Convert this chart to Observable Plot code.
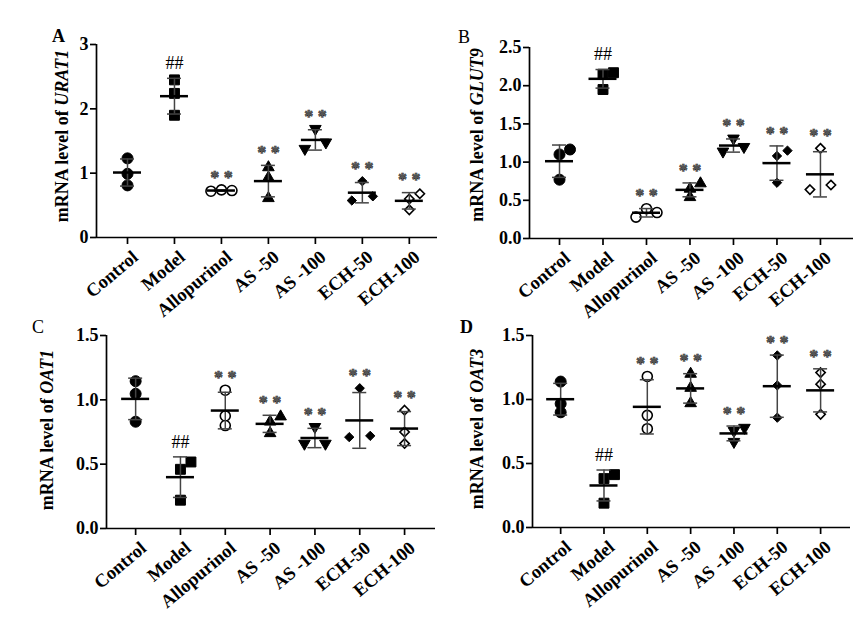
<!DOCTYPE html>
<html><head><meta charset="utf-8">
<script src="https://cdn.jsdelivr.net/npm/d3@7"></script>
<script src="https://cdn.jsdelivr.net/npm/@observablehq/plot@0.6"></script>
<style>
body{margin:0;background:#fff;}
#wrap{position:relative;width:861px;height:617px;overflow:hidden;font-family:"Liberation Serif","Times New Roman",serif;color:#000;}
.panel{position:absolute;}
.letter{position:absolute;font-size:18px;line-height:1;}
</style></head><body><div id="wrap"></div>
<script>
// ---- data ----
const groups = ["Control", "Model", "Allopurinol", "AS -50", "AS -100", "ECH-50", "ECH-100"];

const urat1Values = [[1.23, 0.99, 0.81], [2.45, 2.24, 1.90], [0.72, 0.73, 0.74], [1.09, 0.93, 0.61], [1.69, 1.38, 1.48], [0.875, 0.575, 0.64], [0.68, 0.60, 0.43]];
const glut9Values = [[1.10, 1.165, 0.77], [2.15, 2.17, 1.95], [0.28, 0.39, 0.34], [0.72, 0.65, 0.54], [1.31, 1.14, 1.20], [1.08, 1.15, 0.73], [1.18, 0.64, 0.70]];
const oat1Values = [[1.145, 1.047, 0.83], [0.517, 0.46, 0.22], [1.075, 0.875, 0.80], [0.87, 0.83, 0.74], [0.79, 0.66, 0.66], [1.09, 0.71, 0.72], [0.92, 0.75, 0.66]];
const oat3Values = [[1.14, 0.967, 0.90], [0.413, 0.382, 0.19], [1.18, 0.876, 0.772], [1.20, 1.09, 0.97], [0.78, 0.755, 0.67], [1.344, 1.11, 0.858], [1.21, 1.12, 0.884]];

const urat1Signif = ["", "##", "* *", "* *", "* *", "* *", "* *"];
const glut9Signif = ["", "##", "* *", "* *", "* *", "* *", "* *"];
const oat1Signif = ["", "##", "* *", "* *", "* *", "* *", "* *"];
const oat3Signif = ["", "##", "* *", "* *", "* *", "* *", "* *"];

const urat1Ticks = [0, 1, 2, 3];
const glut9Ticks = [0, 0.5, 1.0, 1.5, 2.0, 2.5];
const oat1Ticks = [0, 0.5, 1.0, 1.5];
const oat3Ticks = [0, 0.5, 1.0, 1.5];

// ---- styles ----
const invTriangle = {
  draw(context, size) {
    const s3 = Math.sqrt(3);
    const y = -Math.sqrt(size / (s3 * 3));
    context.moveTo(0, -y * 2);
    context.lineTo(-s3 * y, y);
    context.lineTo(s3 * y, y);
    context.closePath();
  }
};
const groupStyle = [
  {symbol: "circle", r: 5.5, fill: "black", sw: 1},
  {symbol: "square", r: 5.6, fill: "black", sw: 1},
  {symbol: "circle", r: 5.0, fill: "white", sw: 1.6},
  {symbol: "triangle", r: 4.3, fill: "black", sw: 1},
  {symbol: invTriangle, r: 4.3, fill: "black", sw: 1},
  {symbol: "diamond2", r: 4.2, fill: "black", sw: 1},
  {symbol: "diamond2", r: 4.2, fill: "white", sw: 1.6}
];

const T_PX = 7.5;     // vertical overlap threshold (px)
const SLOT_PX = 10.5; // horizontal spread step (px)

function slotOffsets(vals, pxY) {
  const idx = vals.map((v, i) => i).sort((a, b) => vals[a] - vals[b]);
  const [a, b, c] = idx;
  const g1 = (vals[b] - vals[a]) * pxY, g2 = (vals[c] - vals[b]) * pxY;
  const off = [0, 0, 0];
  if (g1 < T_PX) { off[a] = -1; off[b] = 1; off[c] = 0; }
  else if (g2 < T_PX) { off[c] = 1; }
  return off;
}

function makePanel(cfg, values, signif, yTicks, fmt, gene) {
  const innerW = cfg.width - cfg.ml - cfg.mr;
  const innerH = cfg.height - cfg.mt - cfg.mb;
  const pxX = innerW / (cfg.xd[1] - cfg.xd[0]);
  const pxY = innerH / cfg.ymax;
  const slot = SLOT_PX / pxX;
  const meanW = 14 / pxX, capW = 7 / pxX;
  const stats = values.map((vals, i) => {
    const mean = d3.mean(vals), sd = d3.deviation(vals);
    return {i, mean, lo: mean - sd, hi: mean + sd, top: Math.max(mean + sd, d3.max(vals)), mark: signif[i]};
  });
  const dotMarks = values.map((vals, i) => {
    const off = slotOffsets(vals, pxY);
    const pts = vals.map((v, k) => ({x: i + off[k] * slot, v}));
    const st = groupStyle[i];
    return Plot.dot(pts, {x: "x", y: "v", symbol: st.symbol, r: st.r, fill: st.fill, stroke: "black", strokeWidth: st.sw});
  });
  const labels = groups.map((g, i) => ({i, g}));
  const svg = Plot.plot({
    width: cfg.width, height: cfg.height,
    marginLeft: cfg.ml, marginRight: cfg.mr, marginTop: cfg.mt, marginBottom: cfg.mb,
    style: {fontFamily: '"Liberation Serif","Times New Roman",serif', color: "black", background: "transparent", overflow: "visible"},
    x: {domain: cfg.xd, axis: null},
    y: {domain: [0, cfg.ymax], axis: null},
    marks: [
      ...dotMarks,
      Plot.ruleX(stats, {x: "i", y1: "lo", y2: "hi", stroke: "#444", strokeWidth: 1.5}),
      Plot.ruleY(stats, {y: "hi", x1: d => d.i - capW, x2: d => d.i + capW, stroke: "#444", strokeWidth: 1.5}),
      Plot.ruleY(stats, {y: "lo", x1: d => d.i - capW, x2: d => d.i + capW, stroke: "#444", strokeWidth: 1.5}),
      Plot.ruleY(stats, {y: "mean", x1: d => d.i - meanW, x2: d => d.i + meanW, stroke: "black", strokeWidth: 2.5}),
      Plot.text(stats.filter(d => d.mark === "##"), {x: "i", y: "top", text: "mark", dy: -15, fontSize: 18, fill: "black"}),
      Plot.text(stats.filter(d => d.mark !== "##" && d.mark !== ""), {x: "i", y: "top", text: "mark", dy: -12, fontSize: 18, fontWeight: "bold", fill: "#555", stroke: "#222", strokeWidth: 0.6}),
      Plot.ruleY([0], {stroke: "black", strokeWidth: 1.7}),
      Plot.ruleX([cfg.xd[0]], {y1: 0, y2: cfg.ymax, stroke: "black", strokeWidth: 1.7}),
      Plot.axisY({ticks: yTicks, tickFormat: fmt, tickSize: 6, tickPadding: 2, fontSize: 18, fontWeight: "bold", strokeWidth: 1.7, label: null}),
      Plot.axisX({ticks: d3.range(groups.length), tickFormat: () => "", tickSize: 7, strokeWidth: 1.7, label: null}),
      Plot.text(labels, {x: "i", y: () => 0, text: "g", rotate: -40, textAnchor: "end", dx: 8, dy: 17, fontSize: 18.5, fontWeight: "bold", fill: "black"})
    ]
  });
  const t = d3.select(svg).append("text")
    .attr("transform", `translate(${cfg.lx},${cfg.ly}) rotate(-90)`)
    .attr("text-anchor", "middle").attr("dominant-baseline", "central")
    .style("font-size", "18px").style("font-weight", "bold");
  t.append("tspan").text("mRNA level of ");
  t.append("tspan").style("font-style", "italic").text(gene);
  const div = document.createElement("div");
  div.className = "panel";
  div.style.left = cfg.left + "px"; div.style.top = cfg.top + "px";
  div.appendChild(svg);
  return div;
}

const wrap = document.getElementById("wrap");
const fmt0 = d => d3.format("d")(d);
const fmt1 = d => d3.format(".1f")(d);

wrap.appendChild(makePanel({left: 0, top: 0, width: 440, height: 310, ml: 96, mr: 3, mt: 44, mb: 73, xd: [-0.66, 6.6], ymax: 3, lx: 62, ly: 136}, urat1Values, urat1Signif, urat1Ticks, fmt0, "URAT1"));
wrap.appendChild(makePanel({left: 430, top: 0, width: 431, height: 310, ml: 99, mr: 8, mt: 47, mb: 72, xd: [-0.69, 6.76], ymax: 2.5, lx: 47, ly: 135}, glut9Values, glut9Signif, glut9Ticks, fmt1, "GLUT9"));
wrap.appendChild(makePanel({left: 0, top: 310, width: 440, height: 307, ml: 106, mr: 5, mt: 25, mb: 89, xd: [-0.65, 6.69], ymax: 1.5, lx: 47, ly: 120}, oat1Values, oat1Signif, oat1Ticks, fmt1, "OAT1"));
wrap.appendChild(makePanel({left: 430, top: 310, width: 431, height: 307, ml: 102, mr: 11, mt: 25, mb: 90, xd: [-0.65, 6.69], ymax: 1.5, lx: 47, ly: 119}, oat3Values, oat3Signif, oat3Ticks, fmt1, "OAT3"));

const letters = [["A", 52, 27, "bold"], ["B", 458, 28, "normal"], ["C", 32, 318, "normal"], ["D", 460, 318, "bold"]];
for (const [txt, x, y, w] of letters) {
  const d = document.createElement("div");
  d.className = "letter"; d.textContent = txt;
  d.style.left = x + "px"; d.style.top = y + "px"; d.style.fontWeight = w;
  wrap.appendChild(d);
}
</script></body></html>
